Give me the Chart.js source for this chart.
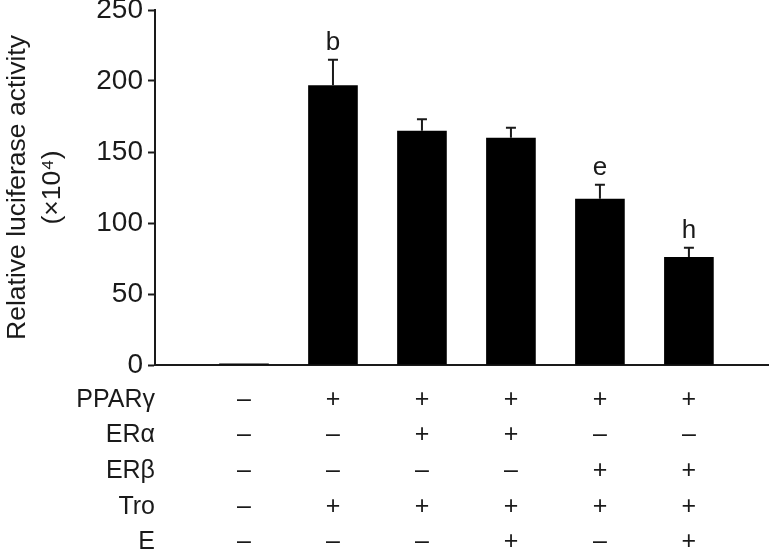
<!DOCTYPE html>
<html>
<head>
<meta charset="utf-8">
<script src="https://cdn.jsdelivr.net/npm/chart.js@4.4.1/dist/chart.umd.min.js"></script>
<style>
  body { margin: 0; background: #fff; }
  #wrap { width: 769px; height: 551px; }
</style>
</head>
<body>
<div id="wrap"><canvas id="bars"></canvas></div>
<script>
// values
const groups = [1, 2, 3, 4, 5, 6];
const activity = [1, 197, 165, 160, 117, 76];
const errorUp = [0, 18, 8, 7, 10, 6.5];
const letters = ['', 'b', '', '', 'e', 'h'];
const yTicks = [0, 50, 100, 150, 200, 250];

const rowLabels = ['PPARγ', 'ERα', 'ERβ', 'Tro', 'E'];
const pparg = ['–', '+', '+', '+', '+', '+'];
const eralpha = ['–', '–', '+', '+', '–', '–'];
const erbeta = ['–', '–', '–', '–', '+', '+'];
const tro = ['–', '+', '+', '+', '+', '+'];
const estro = ['–', '–', '–', '+', '–', '+'];
const rows = [pparg, eralpha, erbeta, tro, estro];

const FONT = "'Liberation Sans', Arial, sans-serif";
const INK = '#1a1a1a';

const extras = {
    id: 'extras',
    afterDatasetsDraw(chart) {
        const ctx = chart.ctx;
        const x = chart.scales.x, y = chart.scales.y;
        ctx.save();
        ctx.strokeStyle = INK;
        ctx.fillStyle = INK;
        ctx.lineWidth = 2;
        // error bars (upper half only) and letters
        for (let i = 0; i < groups.length; i++) {
            const px = x.getPixelForValue(groups[i]);
            const top = y.getPixelForValue(activity[i] + errorUp[i]);
            if (errorUp[i] > 0) {
                ctx.beginPath();
                ctx.moveTo(px, y.getPixelForValue(activity[i]));
                ctx.lineTo(px, top);
                ctx.moveTo(px - 5, top);
                ctx.lineTo(px + 5, top);
                ctx.stroke();
            }
            if (letters[i]) {
                ctx.font = '26px ' + FONT;
                ctx.textAlign = 'center';
                ctx.textBaseline = 'alphabetic';
                ctx.fillText(letters[i], px, top - 10);
            }
        }
        // treatment table under the axis
        ctx.font = '25px ' + FONT;
        ctx.textBaseline = 'middle';
        const base = y.getPixelForValue(0);
        const labelRight = x.getPixelForValue(0);
        rows.forEach(function(row, r) {
            const py = base + 35 + r * 35.6;
            ctx.textAlign = 'right';
            ctx.fillText(rowLabels[r], labelRight, py);
            ctx.textAlign = 'center';
            row.forEach(function(sign, i) {
                ctx.fillText(sign, x.getPixelForValue(groups[i]), py);
            });
        });
        ctx.restore();
    }
};

new Chart(document.getElementById('bars'), {
    type: 'bar',
    data: {
        datasets: [{
            data: groups.map((g, i) => ({ x: g, y: activity[i] })),
            backgroundColor: '#000',
            borderWidth: 0,
            barPercentage: 0.62,
            categoryPercentage: 1
        }]
    },
    options: {
        responsive: true,
        maintainAspectRatio: false,
        animation: false,
        layout: { padding: { top: 0, right: 0, left: 0, bottom: 0 } },
        plugins: {
            legend: { display: false },
            tooltip: { enabled: false }
        },
        scales: {
            x: {
                type: 'linear',
                min: 0,
                max: 6.9,
                offset: false,
                grid: { display: false },
                ticks: { display: false },
                border: { display: true, color: INK, width: 2 },
                afterFit(scale) { scale.height = 186; }
            },
            y: {
                min: 0,
                max: 250,
                afterBuildTicks(scale) { scale.ticks = yTicks.map(v => ({ value: v })); },
                grid: { drawOnChartArea: false, drawTicks: true, tickLength: 7, color: INK, tickWidth: 2 },
                border: { display: true, color: INK, width: 2 },
                ticks: { color: INK, padding: 5, font: { family: FONT, size: 28 } },
                title: {
                    display: true,
                    text: ['Relative luciferase activity', '(×10⁴)'],
                    color: INK,
                    padding: 0,
                    font: { family: FONT, size: 26.5, lineHeight: 1.32 }
                },
                afterFit(scale) {
                    scale.width = 155;
                    scale.paddingTop = 10;
                    scale.paddingBottom = 0;
                }
            }
        }
    },
    plugins: [extras]
});
</script>
</body>
</html>
